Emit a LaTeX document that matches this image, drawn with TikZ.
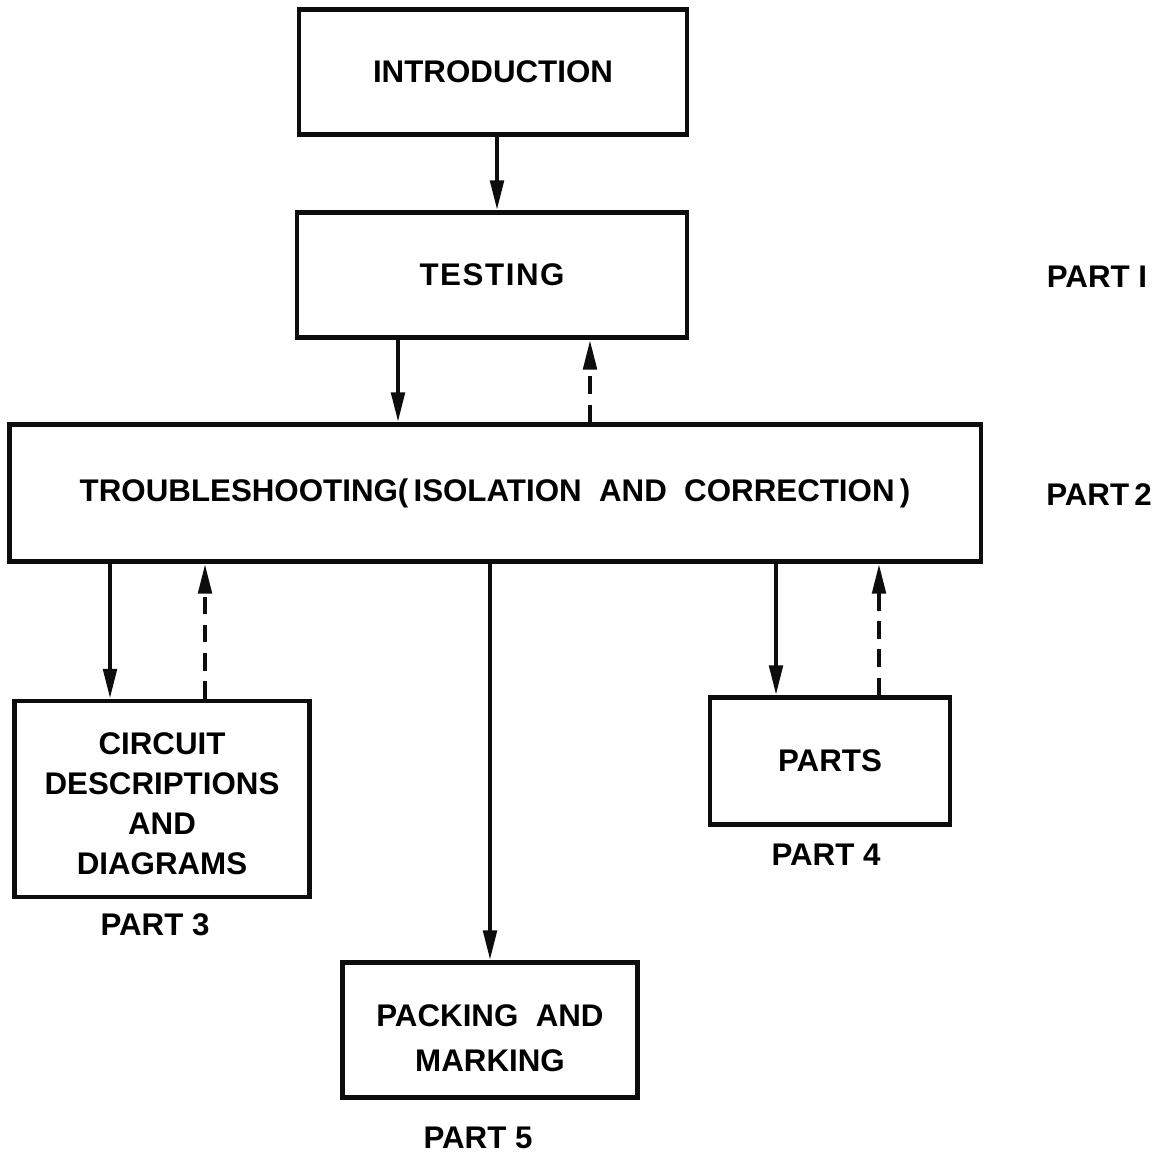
\documentclass[tikz,border=0pt]{standalone}
\usepackage{fontspec}
\setmainfont{Liberation Sans}
\usetikzlibrary{arrows.meta,calc}
\definecolor{InkClr}{rgb}{0.05,0.05,0.05}

\tikzset{
  box/.style={draw=InkClr,line width=1.3pt,inner sep=0pt,align=center,
    font=\bfseries\fontsize{8.9}{11.4}\selectfont},
  lbl/.style={inner sep=0pt,font=\bfseries\fontsize{8.9}{11.4}\selectfont},
  flow/.style={draw=InkClr,line width=1.2pt,-{Triangle[length=8.5pt,width=3.8pt]}},
  back/.style={flow,dash pattern=on 5pt off 3pt}
}

\begin{document}
\begin{tikzpicture}[x=0.01cm,y=-0.01cm]
\useasboundingbox (0,0) rectangle (1165,1154);

% blocks
\node[box,minimum width=3.88cm,minimum height=1.25cm] (intro) at (493,72) {INTRODUCTION};
\node[box,minimum width=3.90cm,minimum height=1.25cm] (test) at (492,275)
  {\addfontfeature{LetterSpace=5}TESTING};
\node[box,minimum width=9.71cm,minimum height=1.37cm] (trbl) at (495,493)
  {TROUBLESHOOTING(\,ISOLATION\ \ AND\ \ CORRECTION\,)};
\node[box,minimum width=2.95cm,minimum height=1.96cm] (circ) at (162,799)
  {\rule{0pt}{9pt}CIRCUIT\\DESCRIPTIONS\\AND\\DIAGRAMS};
\node[box,minimum width=2.40cm,minimum height=1.27cm] (parts) at (830,761) {PARTS};
\node[box,minimum width=2.95cm,minimum height=1.35cm,
  font=\bfseries\fontsize{8.9}{12.8}\selectfont] (pack) at (490,1030)
  {\rule{0pt}{11pt}PACKING\ \ AND\\MARKING};

% part labels
\node[lbl] (p1) at (1097,277) {PART I};
\node[lbl] (p2) at (1099,495) {PART\,2};
\node[lbl] (p3) at (155,925) {PART 3};
\node[lbl] (p4) at (826,855) {PART 4};
\node[lbl] (p5) at (478,1138) {PART 5};

% columns of the connectors
\coordinate (xa) at (497,0);
\coordinate (xb) at (398,0);
\coordinate (xc) at (590,0);
\coordinate (xd) at (110,0);
\coordinate (xe) at (205,0);
\coordinate (xf) at (490,0);
\coordinate (xg) at (776,0);
\coordinate (xh) at (879,0);

\draw[flow] (intro.south -| xa) -- (test.north -| xa);
\draw[flow] (test.south -| xb) -- (trbl.north -| xb);
\draw[back] (trbl.north -| xc) -- (test.south -| xc);
\draw[flow] (trbl.south -| xd) -- (circ.north -| xd);
\draw[back] (circ.north -| xe) -- (trbl.south -| xe);
\draw[flow] (trbl.south -| xf) -- (pack.north -| xf);
\draw[flow] (trbl.south -| xg) -- (parts.north -| xg);
\draw[back] (parts.north -| xh) -- (trbl.south -| xh);

\end{tikzpicture}
\end{document}
